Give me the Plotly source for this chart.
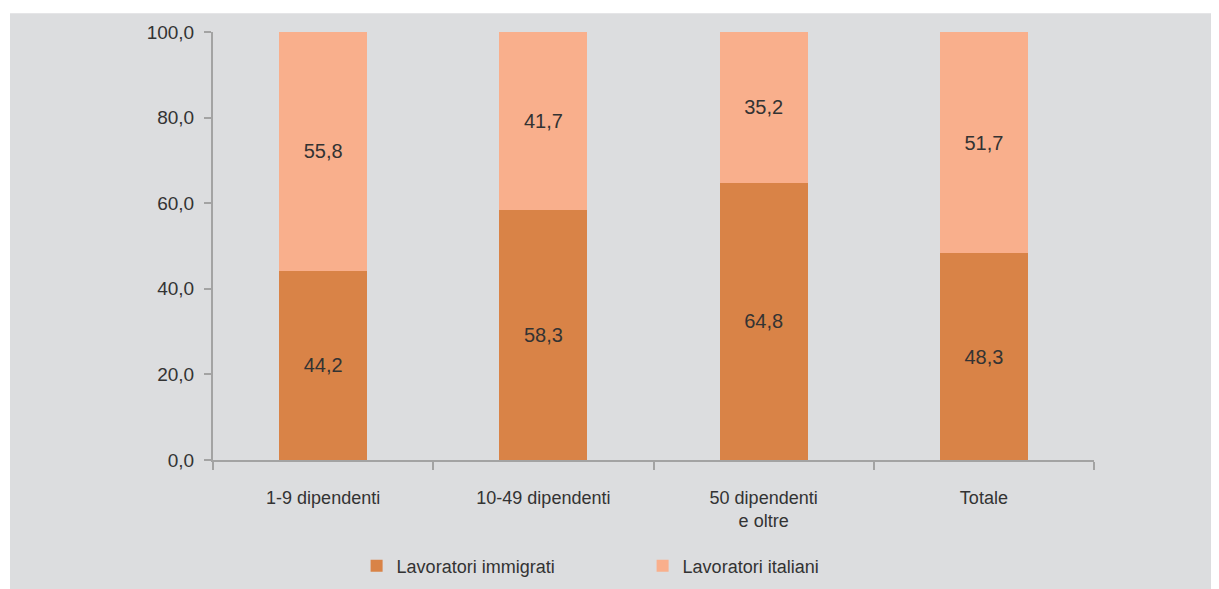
import plotly.graph_objects as go

categories = ["1-9 dipendenti", "10-49 dipendenti", "50 dipendenti<br>e oltre", "Totale"]
immigrati = [44.2, 58.3, 64.8, 48.3]
italiani = [55.8, 41.7, 35.2, 51.7]
y_ticks = [0, 20, 40, 60, 80, 100]

col_imm = "#D98347"
col_ita = "#F9AF8C"
panel = "#DCDDDF"
axis_col = "#A3A3A3"
txt = "#333333"


def lab(vals):
    return [f"{v:.1f}".replace(".", ",") for v in vals]


fig = go.Figure()
fig.add_trace(go.Bar(
    x=categories, y=immigrati, name="Lavoratori immigrati",
    marker=dict(color=col_imm, line=dict(width=0)),
    text=lab(immigrati), textposition="inside", insidetextanchor="middle",
    textfont=dict(size=20, color=txt),
))
fig.add_trace(go.Bar(
    x=categories, y=italiani, name="Lavoratori italiani",
    marker=dict(color=col_ita, line=dict(width=0)),
    text=lab(italiani), textposition="inside", insidetextanchor="middle",
    textfont=dict(size=20, color=txt),
))

# grey panel behind the chart
fig.add_shape(type="rect", xref="paper", yref="paper",
              x0=-0.2304, x1=1.2, y0=-0.35, y1=1.044,
              fillcolor=panel, line=dict(width=0), layer="below")

fig.update_layout(
    width=1219, height=589,
    barmode="stack", bargap=0.6,
    paper_bgcolor="white", plot_bgcolor=panel,
    margin=dict(l=205, r=133, t=24, b=121),
    font=dict(family="Liberation Sans, Arial, sans-serif", size=18, color=txt),
    separators=",.",
    showlegend=True,
    legend=dict(orientation="h", x=0.163, xanchor="left", y=-0.248, yanchor="middle",
                entrywidth=241, bgcolor="rgba(0,0,0,0)", font=dict(size=18, color=txt),
                traceorder="normal"),
    uniformtext=dict(mode="show", minsize=20),
)
fig.update_xaxes(
    type="category", tickson="boundaries", ticks="outside", ticklen=8,
    tickcolor=axis_col, tickwidth=2, showline=True, linecolor=axis_col, linewidth=2,
    showgrid=False, ticklabelstandoff=20, tickfont=dict(size=18, color=txt),
)
fig.update_yaxes(
    range=[0, 100], tickvals=y_ticks, tickformat=".1f", ticks="outside", ticklen=7,
    tickcolor=axis_col, tickwidth=2, showline=True, linecolor=axis_col, linewidth=2,
    showgrid=False, zeroline=False, ticklabelstandoff=6, tickfont=dict(size=19, color=txt),
)

fig.write_html("out.html")
